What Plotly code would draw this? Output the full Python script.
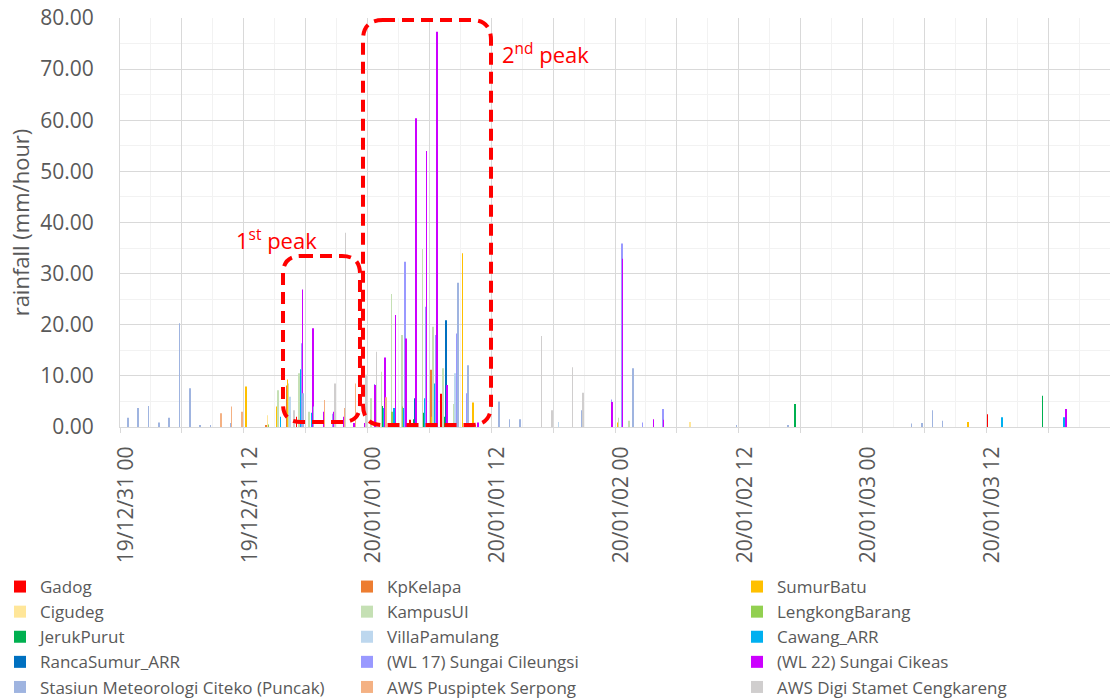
import plotly.graph_objects as go
import pandas as pd

# ---------------- data ----------------
start = pd.Timestamp("2019-12-31 00:00")
n_hours = 96
times = pd.date_range(start, periods=n_hours, freq="h")

series_names = [
    "Gadog", "KpKelapa", "SumurBatu", "Cigudeg", "KampusUI", "LengkongBarang",
    "JerukPurut", "VillaPamulang", "Cawang_ARR", "RancaSumur_ARR",
    "(WL 17) Sungai Cileungsi", "(WL 22) Sungai Cikeas",
    "Stasiun Meteorologi Citeko (Puncak)", "AWS Puspiptek Serpong",
    "AWS Digi Stamet Cengkareng",
]

# hour index (from 19/12/31 00) -> rainfall (mm/hour); hours not listed are 0
gadog_hours = [17, 28, 31, 84]
gadog_vals = [2.0, 1.4, 6.5, 2.5]
kpkelapa_hours = [14, 15, 16, 30]
kpkelapa_vals = [0.3, 2.4, 8.1, 11.2]
sumurbatu_hours = [12, 15, 16, 30, 33, 34, 48, 82]
sumurbatu_vals = [7.9, 4.0, 9.3, 2.0, 34.0, 4.8, 0.9, 1.0]
cigudeg_hours = [14, 18, 55]
cigudeg_vals = [2.3, 2.5, 1.0]
kampusui_hours = [15, 16, 17, 18, 24, 25, 26, 27, 29, 30, 31, 32, 48, 49]
kampusui_vals = [7.2, 8.5, 10.5, 3.0, 5.6, 10.8, 26.0, 18.0, 34.8, 19.6, 11.5, 4.5, 1.8, 1.2]
lengkong_hours = [14, 26, 27]
lengkong_vals = [0.5, 3.0, 4.0]
jerukpurut_hours = [25, 28, 29, 31, 65, 89]
jerukpurut_vals = [4.1, 1.5, 2.8, 2.0, 4.5, 6.1]
villa_hours = [16, 32, 42]
villa_vals = [5.9, 10.5, 1.0]
cawang_hours = [15, 17, 18, 25, 26, 27, 29, 30, 31, 85, 91]
cawang_vals = [2.0, 11.3, 2.8, 3.7, 3.7, 3.7, 5.6, 8.5, 2.7, 1.9, 1.9]
rancasumur_hours = [28, 31]
rancasumur_vals = [5.6, 20.9]
wl17_hours = [17, 20, 24, 27, 28, 29, 30, 32, 33, 47, 48, 50, 52]
wl17_vals = [16.4, 2.6, 8.4, 32.3, 29.0, 23.5, 18.0, 18.3, 6.6, 5.4, 35.9, 0.9, 3.5]
wl22_hours = [17, 18, 19, 20, 21, 22, 23, 24, 25, 26, 27, 28, 29, 30, 31, 32, 34, 36,
              47, 48, 49, 51, 52, 91]
wl22_vals = [26.9, 19.3, 3.0, 3.0, 2.0, 0.8, 0.8, 8.2, 13.6, 21.9, 17.3, 60.4, 54.0, 77.3,
             8.2, 4.8, 0.9, 0.5, 4.9, 32.9, 1.9, 1.5, 1.4, 3.5]
citeko_hours = [0, 1, 2, 3, 4, 5, 6, 7, 8, 9, 10, 17, 18, 32, 33, 36, 37, 38, 44, 49,
                59, 64, 76, 77, 78, 79]
citeko_vals = [1.8, 3.7, 4.1, 0.9, 1.8, 20.3, 7.6, 0.2, 0.3, 0.8, 0.8, 6.6, 4.0, 28.2,
               12.1, 5.0, 1.5, 1.5, 3.3, 11.5, 0.4, 0.2, 0.7, 0.8, 3.3, 1.2]
puspiptek_hours = [9, 10, 11, 19, 21, 22, 25]
puspiptek_vals = [2.7, 4.0, 3.0, 5.3, 3.7, 8.5, 5.8]
digi_hours = [16, 20, 21, 23, 24, 40, 41, 43, 44]
digi_vals = [3.3, 8.5, 38.0, 10.2, 14.7, 17.8, 3.3, 11.7, 6.7]

x_tick_labels = ["19/12/31 00", "19/12/31 12", "20/01/01 00", "20/01/01 12",
                 "20/01/02 00", "20/01/02 12", "20/01/03 00", "20/01/03 12"]

sparse = [
    (gadog_hours, gadog_vals), (kpkelapa_hours, kpkelapa_vals),
    (sumurbatu_hours, sumurbatu_vals), (cigudeg_hours, cigudeg_vals),
    (kampusui_hours, kampusui_vals), (lengkong_hours, lengkong_vals),
    (jerukpurut_hours, jerukpurut_vals), (villa_hours, villa_vals),
    (cawang_hours, cawang_vals), (rancasumur_hours, rancasumur_vals),
    (wl17_hours, wl17_vals), (wl22_hours, wl22_vals),
    (citeko_hours, citeko_vals), (puspiptek_hours, puspiptek_vals),
    (digi_hours, digi_vals),
]

colors = ["#FF0000", "#ED7D31", "#FFC000", "#FFE699", "#C5E0B4", "#92D050",
          "#00B050", "#BDD7EE", "#00B0F0", "#0070C0", "#9999FF", "#CC00FF",
          "#9FB4E0", "#F4B183", "#D0CECE"]

# legend column assignment (Excel legend, 3 columns, row-major)
legend_of = ["legend", "legend2", "legend3"] * 5

# ---------------- figure ----------------
W, H = 1110, 698
L, R, T, B = 120, 0, 18, 271
PW, PH = W - L - R, H - T - B

def px_x(px):
    return (px - L) / PW

def px_y(py):
    return (H - B - py) / PH

fig = go.Figure()
for i, name in enumerate(series_names):
    hrs, vals = sparse[i]
    full = [0.0] * n_hours
    for h, v in zip(hrs, vals):
        full[h] = v
    fig.add_trace(go.Bar(
        x=times, y=full, name=name, marker_color=colors[i],
        marker_line_width=0, legend=legend_of[i],
    ))

tick_font = "'Open Sans', sans-serif"
txt_col = "#595959"
grid_dark = "#D9D9D9"
grid_light = "#F2F2F2"

half = pd.Timedelta(minutes=30)
x_lo = start - half
x_hi = start + pd.Timedelta(hours=n_hours) - half
b6 = [x_lo + pd.Timedelta(hours=6 * k) for k in range(17)]
b6_text = [x_tick_labels[k // 2] if (k % 2 == 0 and k // 2 < len(x_tick_labels)) else ""
           for k in range(17)]

fig.update_layout(
    width=W, height=H,
    margin=dict(l=L, r=R, t=T, b=B, autoexpand=False),
    paper_bgcolor="white", plot_bgcolor="white",
    barmode="group", bargap=0.2, bargroupgap=0,
    font=dict(family=tick_font, color=txt_col, size=18),
    xaxis=dict(
        type="date", range=[x_lo, x_hi],
        tickmode="array", tickvals=b6, ticktext=b6_text,
        tickangle=-90, ticks="outside", ticklen=5, tickcolor=grid_dark,
        ticklabelshift=6, ticklabelstandoff=5,
        tickfont=dict(size=21, color=txt_col, family=tick_font),
        showgrid=True, gridcolor=grid_dark, gridwidth=1,
        minor=dict(tickmode="linear", tick0=x_lo, dtick=3 * 3600000,
                   showgrid=True, gridcolor=grid_light, ticks=""),
        showline=True, linecolor=grid_dark, linewidth=1,
        zeroline=False,
    ),
    yaxis=dict(
        range=[0, 80], dtick=10, tickformat=".2f",
        tickfont=dict(size=21, color=txt_col, family=tick_font),
        ticklabelstandoff=21,
        showgrid=True, gridcolor=grid_dark, gridwidth=1,
        minor=dict(dtick=5, showgrid=True, gridcolor=grid_light),
        showline=True, linecolor=grid_dark, linewidth=1,
        zeroline=False,
        title=dict(text="rainfall (mm/hour)", standoff=4,
                   font=dict(size=22, color=txt_col, family=tick_font)),
    ),
)

legend_common = dict(
    orientation="v", xanchor="left", yanchor="top", bgcolor="rgba(0,0,0,0)",
    font=dict(size=17, color=txt_col, family=tick_font),
    itemwidth=30, itemclick=False, itemdoubleclick=False,
    y=px_y(569),
)
fig.update_layout(
    legend=dict(x=px_x(0), **legend_common),
    legend2=dict(x=px_x(347), **legend_common),
    legend3=dict(x=px_x(737), **legend_common),
)

# ---------------- highlight boxes ----------------
def rounded_rect(x0, y0, x1, y1, r):
    X = lambda v: f"{px_x(v):.5f}"
    Y = lambda v: f"{px_y(v):.5f}"
    return (f"M {X(x0 + r)} {Y(y0)} L {X(x1 - r)} {Y(y0)} "
            f"Q {X(x1)} {Y(y0)} {X(x1)} {Y(y0 + r)} "
            f"L {X(x1)} {Y(y1 - r)} Q {X(x1)} {Y(y1)} {X(x1 - r)} {Y(y1)} "
            f"L {X(x0 + r)} {Y(y1)} Q {X(x0)} {Y(y1)} {X(x0)} {Y(y1 - r)} "
            f"L {X(x0)} {Y(y0 + r)} Q {X(x0)} {Y(y0)} {X(x0 + r)} {Y(y0)} Z")

box_line = dict(color="#FF0000", width=4, dash="12px,7px")
fig.add_shape(type="path", xref="paper", yref="paper",
              path=rounded_rect(283, 256, 360, 422, 18), line=box_line)
fig.add_shape(type="path", xref="paper", yref="paper",
              path=rounded_rect(363, 20, 491, 425, 20), line=box_line)

fig.add_annotation(x=px_x(276), y=px_y(240), xref="paper", yref="paper",
                   xanchor="center", yanchor="middle",
                   text="1<sup>st</sup> peak", showarrow=False,
                   font=dict(size=22, color="#FF0000", family=tick_font))
fig.add_annotation(x=px_x(545), y=px_y(54), xref="paper", yref="paper",
                   xanchor="center", yanchor="middle",
                   text="2<sup>nd</sup> peak", showarrow=False,
                   font=dict(size=22, color="#FF0000", family=tick_font))

fig.write_html("out.html", config={"displayModeBar": False},
               post_script="document.body.style.margin='0px';")
